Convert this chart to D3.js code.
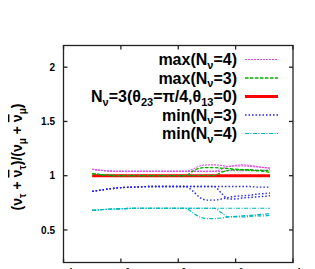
<!DOCTYPE html>
<html>
<head>
<meta charset="utf-8">
<script src="https://cdn.jsdelivr.net/npm/d3@7"></script>
<style>
  body { margin: 0; background: #fff; }
  svg { display: block; font-family: "Liberation Sans", Arial, sans-serif; font-weight: bold; }
</style>
</head>
<body>
<div id="chart"></div>
<script>
// log10(E) grid shared by all curves
const logE = [-3, -2.5, -2, -1.5, -1, -0.5, 0, 0.25, 0.5, 0.75, 1, 1.25, 1.5, 1.75, 2, 2.25, 2.5, 2.75, 3, 3.2];

const std3 = [1, 1, 1, 1, 1, 1, 1, 1, 1, 1, 1, 1, 1, 1, 1, 1, 1, 1, 1, 1];

const max4a = [1.06, 1.045, 1.04, 1.04, 1.04, 1.04, 1.04, 1.04, 1.06, 1.09, 1.10, 1.10, 1.095, 1.085, 1.095, 1.10, 1.095, 1.085, 1.075, 1.07];
const max4b = [1.06, 1.045, 1.04, 1.04, 1.04, 1.04, 1.04, 1.04, 1.04, 1.04, 1.04, 1.04, 1.06, 1.085, 1.09, 1.09, 1.085, 1.08, 1.075, 1.07];
const max4c = [1.06, 1.045, 1.04, 1.04, 1.04, 1.04, 1.04, 1.04, 1.04, 1.04, 1.04, 1.04, 1.04, 1.045, 1.045, 1.045, 1.045, 1.05, 1.05, 1.055];

const max3a = [1.02, 1.005, 1, 1, 1, 1, 1, 1, 1.04, 1.07, 1.075, 1.075, 1.07, 1.065, 1.06, 1.055, 1.055, 1.05, 1.05, 1.045];
const max3b = [1.02, 1.005, 1, 1, 1, 1, 1, 1, 1, 1, 1, 1, 1.03, 1.05, 1.055, 1.055, 1.05, 1.045, 1.04, 1.03];

const min3a = [0.855, 0.875, 0.89, 0.895, 0.9, 0.9, 0.9, 0.9, 0.86, 0.8, 0.775, 0.775, 0.785, 0.8, 0.81, 0.815, 0.82, 0.83, 0.835, 0.84];
const min3b = [0.855, 0.875, 0.89, 0.895, 0.9, 0.9, 0.9, 0.9, 0.9, 0.9, 0.9, 0.9, 0.84, 0.785, 0.785, 0.795, 0.8, 0.805, 0.81, 0.815];
const min3c = [0.855, 0.875, 0.89, 0.895, 0.9, 0.9, 0.9, 0.9, 0.9, 0.9, 0.9, 0.9, 0.9, 0.9, 0.9, 0.9, 0.9, 0.895, 0.895, 0.895];

const min4a = [0.68, 0.69, 0.695, 0.7, 0.7, 0.7, 0.7, 0.7, 0.66, 0.62, 0.605, 0.605, 0.61, 0.62, 0.625, 0.63, 0.635, 0.64, 0.645, 0.65];
const min4b = [0.68, 0.69, 0.695, 0.7, 0.7, 0.7, 0.7, 0.7, 0.7, 0.7, 0.7, 0.7, 0.66, 0.62, 0.62, 0.62, 0.625, 0.63, 0.63, 0.635];
const min4c = [0.68, 0.69, 0.695, 0.7, 0.7, 0.7, 0.7, 0.7, 0.7, 0.7, 0.7, 0.7, 0.7, 0.7, 0.7, 0.7, 0.7, 0.7, 0.7, 0.7];

const xTicks = [-4, -2, 0, 2, 4];
const yTicks = [0.5, 1, 1.5, 2];

const width = 315, height = 269;
const plot = { left: 63.5, right: 293, top: 45.5, bottom: 262.5 };

const x = d3.scaleLinear().domain([-4, 4]).range([plot.left, plot.right]);
const y = d3.scaleLinear().domain([0.2, 2.2]).range([plot.bottom, plot.top]);

const svg = d3.select("#chart").append("svg")
    .attr("width", width)
    .attr("height", height);

// series styles
const styles = {
    max4: { color: "#e050e0", width: 1.1, dash: "2,1" },
    max3: { color: "#00b000", width: 1.3, dash: "3.5,1.5" },
    std: { color: "#ff0000", width: 3, dash: null },
    min3: { color: "#2222ff", width: 1.4, dash: "1.5,2" },
    min4: { color: "#00b8b8", width: 1.2, dash: "4,1.5,1,1.5" }
};

const curves = [
    { s: "std", v: std3 },
    { s: "max4", v: max4c }, { s: "max4", v: max4b }, { s: "max4", v: max4a },
    { s: "max3", v: max3b }, { s: "max3", v: max3a },
    { s: "min3", v: min3c }, { s: "min3", v: min3b }, { s: "min3", v: min3a },
    { s: "min4", v: min4c }, { s: "min4", v: min4b }, { s: "min4", v: min4a }
];

const line = d3.line()
    .x((d, i) => x(logE[i]))
    .y(d => y(d))
    .curve(d3.curveMonotoneX);

svg.append("g").selectAll("path")
    .data(curves)
    .enter().append("path")
    .attr("d", d => line(d.v))
    .attr("fill", "none")
    .attr("stroke", d => styles[d.s].color)
    .attr("stroke-width", d => styles[d.s].width)
    .attr("stroke-dasharray", d => styles[d.s].dash);

// frame and ticks
const axes = svg.append("g").attr("stroke", "#222").attr("stroke-width", 1.3);
axes.append("rect")
    .attr("x", plot.left).attr("y", plot.top)
    .attr("width", plot.right - plot.left).attr("height", plot.bottom - plot.top)
    .attr("fill", "none");

const tl = 4;
xTicks.forEach(t => {
    axes.append("line").attr("x1", x(t)).attr("x2", x(t)).attr("y1", plot.bottom).attr("y2", plot.bottom - tl);
    axes.append("line").attr("x1", x(t)).attr("x2", x(t)).attr("y1", plot.top).attr("y2", plot.top + tl);
});
yTicks.forEach(t => {
    axes.append("line").attr("x1", plot.left).attr("x2", plot.left + tl).attr("y1", y(t)).attr("y2", y(t));
    axes.append("line").attr("x1", plot.right).attr("x2", plot.right - tl).attr("y1", y(t)).attr("y2", y(t));
});

svg.append("g").selectAll("text")
    .data(yTicks)
    .enter().append("text")
    .attr("x", 55)
    .attr("y", d => y(d) + 3.6)
    .attr("text-anchor", "end")
    .attr("font-size", 10)
    .text(d => d);

// x tick labels 10^n (mostly cut off by the bottom edge)
const xl = svg.append("g").selectAll("text")
    .data(xTicks)
    .enter().append("text")
    .attr("x", d => x(d))
    .attr("y", 278)
    .attr("text-anchor", "middle")
    .attr("font-size", 10);
xl.append("tspan").text("10");
xl.append("tspan").attr("dy", -5).attr("font-size", 7.5).text(d => d);

// y axis label
const yl = svg.append("text")
    .attr("transform", "translate(22,157) rotate(-90)")
    .attr("text-anchor", "middle")
    .attr("font-size", 14);
const addNu = (g, sub, bar) => {
    const t = yl.append("tspan").text("ν");
    if (bar) t.style("text-decoration", "overline");
    yl.append("tspan").attr("dy", 3.5).attr("font-size", 10).text(sub);
    yl.append("tspan").attr("dy", -3.5).text(g);
};
yl.append("tspan").text("(");
addNu(" + ", "τ", false);
addNu(")/(", "τ", true);
addNu(" + ", "μ", false);
addNu(")", "μ", true);

// legend
const legendRows = [
    { s: "max4", parts: [["max(N"], ["ν", "sub"], ["=4)"]] },
    { s: "max3", parts: [["max(N"], ["ν", "sub"], ["=3)"]] },
    { s: "std", parts: [["N"], ["ν", "sub"], ["=3(θ"], ["23", "sub"], ["=π/4,θ"], ["13", "sub"], ["=0)"]] },
    { s: "min3", parts: [["min(N"], ["ν", "sub"], ["=3)"]] },
    { s: "min4", parts: [["min(N"], ["ν", "sub"], ["=4)"]] }
];
const legend = svg.append("g");
legendRows.forEach((r, i) => {
    const yb = 65 + i * 18.5;
    const t = legend.append("text")
        .attr("x", 237).attr("y", yb)
        .attr("text-anchor", "end")
        .attr("font-size", 16);
    let shifted = false;
    r.parts.forEach(p => {
        const ts = t.append("tspan").text(p[0]);
        if (p[1] === "sub") {
            ts.attr("dy", 3.5).attr("font-size", 11);
            shifted = true;
        } else if (shifted) {
            ts.attr("dy", -3.5);
            shifted = false;
        }
    });
    const st = styles[r.s];
    legend.append("line")
        .attr("x1", 245).attr("x2", 278)
        .attr("y1", yb - 5.5).attr("y2", yb - 5.5)
        .attr("stroke", st.color)
        .attr("stroke-width", st.width)
        .attr("stroke-dasharray", st.dash);
});
</script>
</body>
</html>
